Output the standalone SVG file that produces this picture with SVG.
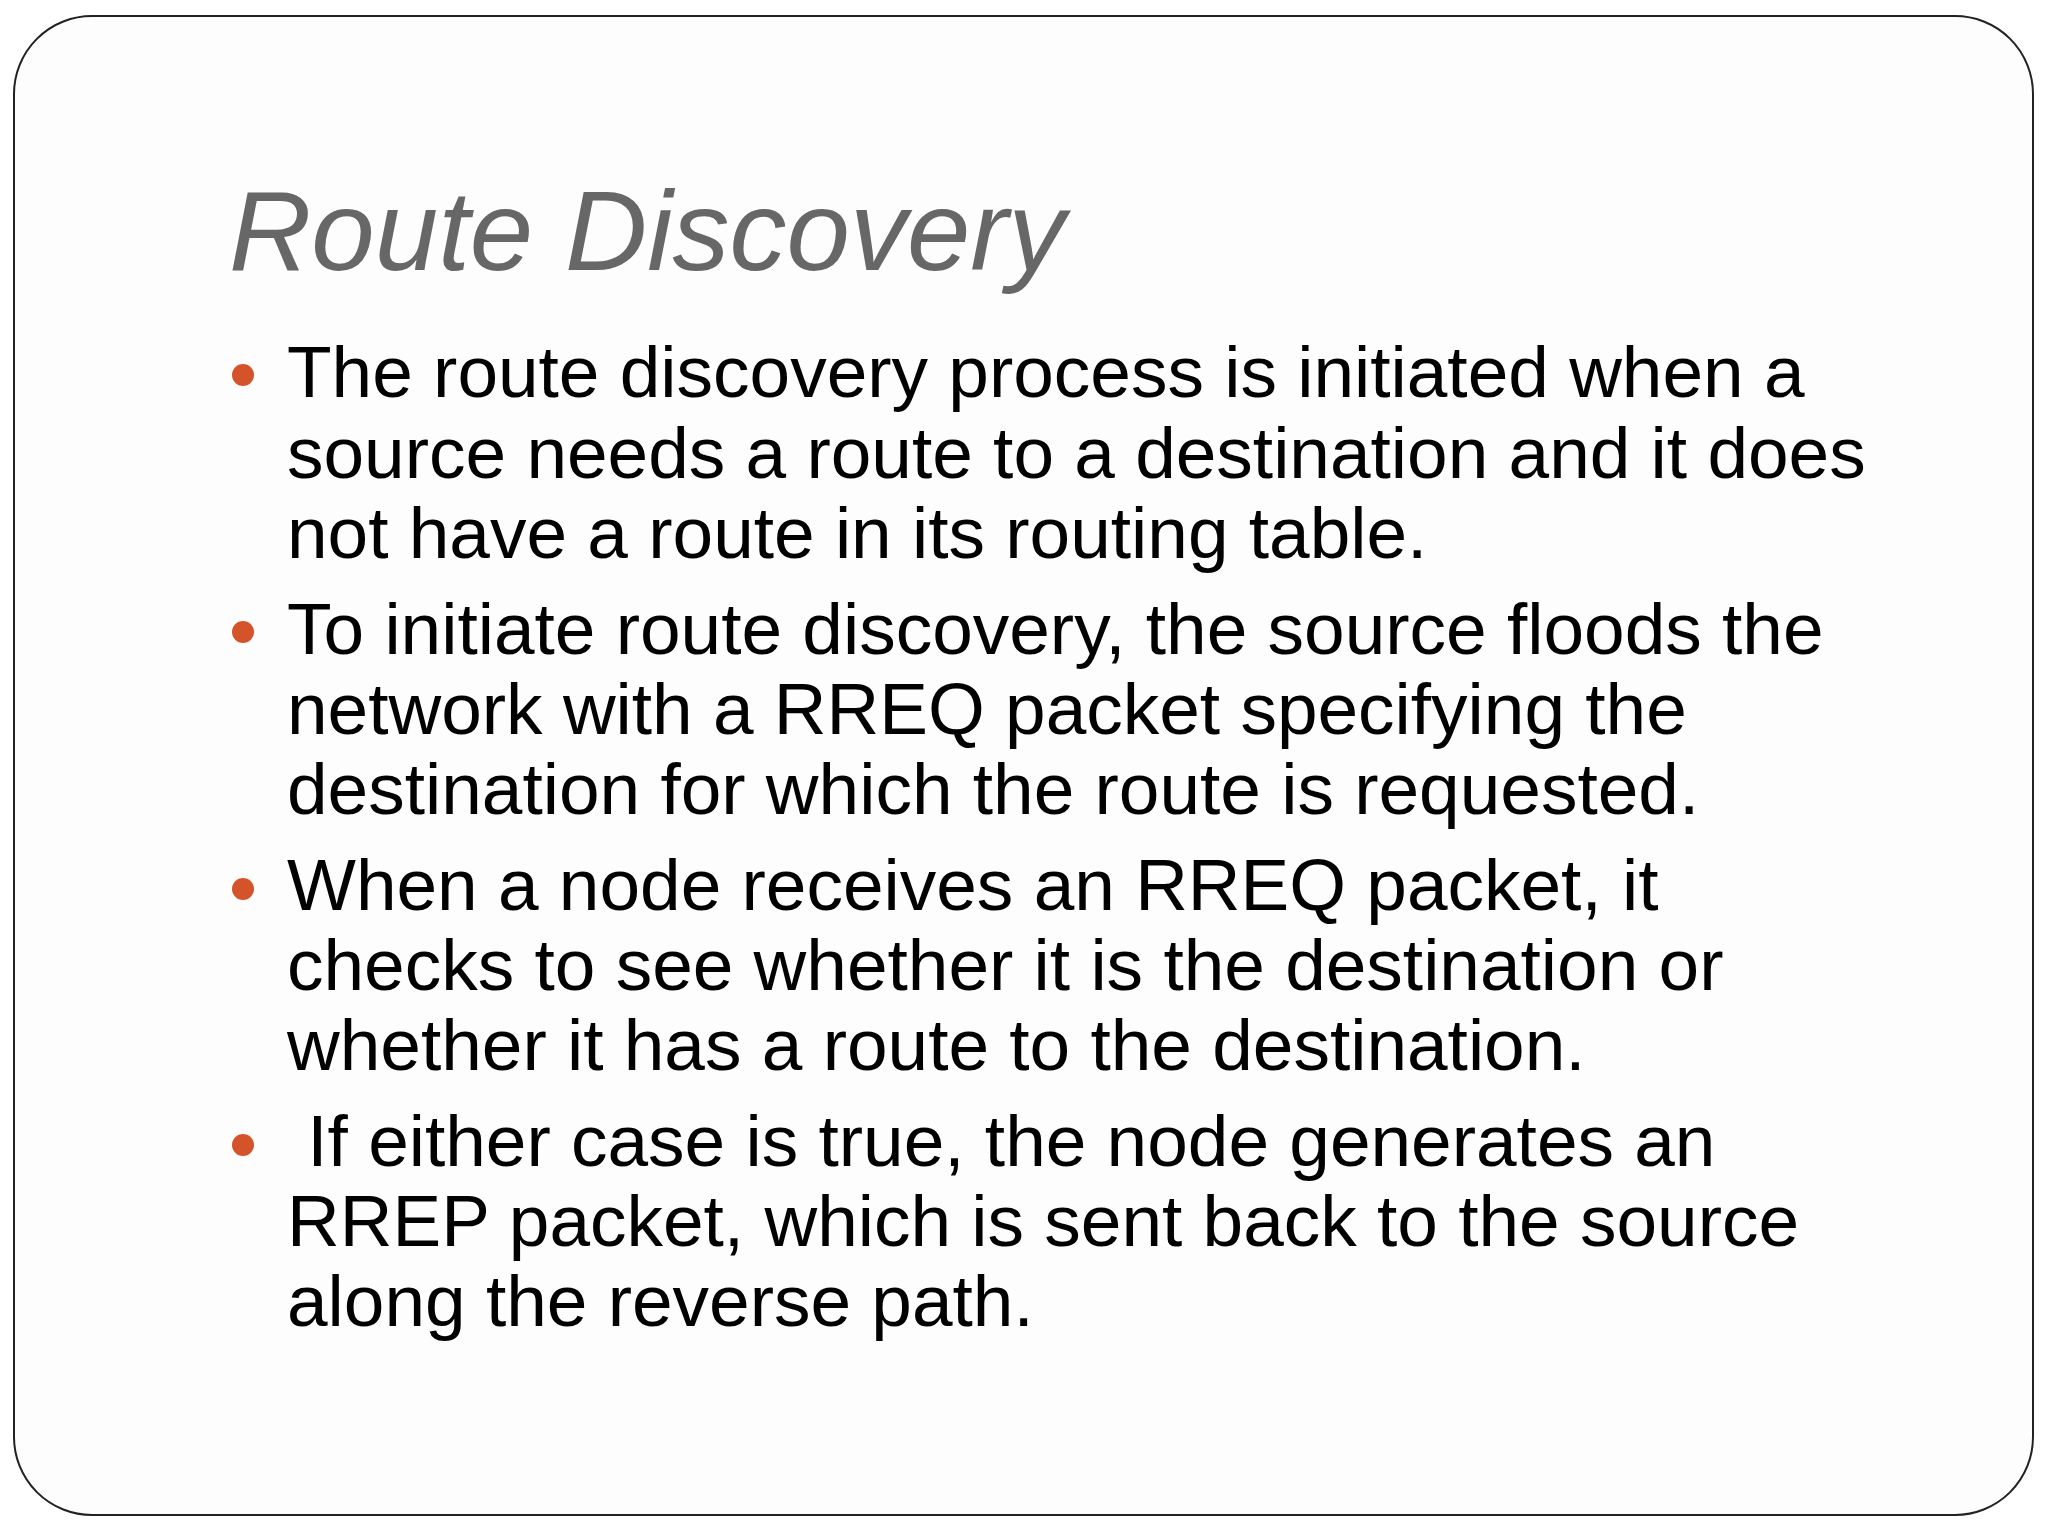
<svg xmlns="http://www.w3.org/2000/svg" width="2048" height="1536" viewBox="0 0 2048 1536">
<style>
.t{font-family:"Liberation Sans",Arial,sans-serif;font-size:73px;fill:#000}
.b{fill:#d5532a}
</style>
<rect width="2048" height="1536" fill="#fff"/>
<rect x="14" y="16" width="2019" height="1499" rx="78" fill="#fdfdfd" stroke="#222" stroke-width="2"/>
<text x="229" y="270" font-family="'Liberation Sans',Arial,sans-serif" font-style="italic" font-size="114" fill="#676767">Route Discovery</text>
<g id="bullets">
<circle class="b" cx="243" cy="375" r="11"/>
<circle class="b" cx="243" cy="632" r="11"/>
<circle class="b" cx="243" cy="889" r="11"/>
<circle class="b" cx="243" cy="1145" r="11"/>
</g>
<g id="text">
<text class="t" x="287" y="397">The route discovery process is initiated when a</text>
<text class="t" x="287" y="478">source needs a route to a destination and it does</text>
<text class="t" x="287" y="558">not have a route in its routing table.</text>
<text class="t" x="287" y="654">To initiate route discovery, the source floods the</text>
<text class="t" x="287" y="734">network with a RREQ packet specifying the</text>
<text class="t" x="287" y="814">destination for which the route is requested.</text>
<text class="t" x="287" y="910">When a node receives an RREQ packet, it</text>
<text class="t" x="287" y="990">checks to see whether it is the destination or</text>
<text class="t" x="287" y="1070">whether it has a route to the destination.</text>
<text class="t" x="287" y="1166" xml:space="preserve"> If either case is true, the node generates an</text>
<text class="t" x="287" y="1246">RREP packet, which is sent back to the source</text>
<text class="t" x="287" y="1326">along the reverse path.</text>
</g>
</svg>
